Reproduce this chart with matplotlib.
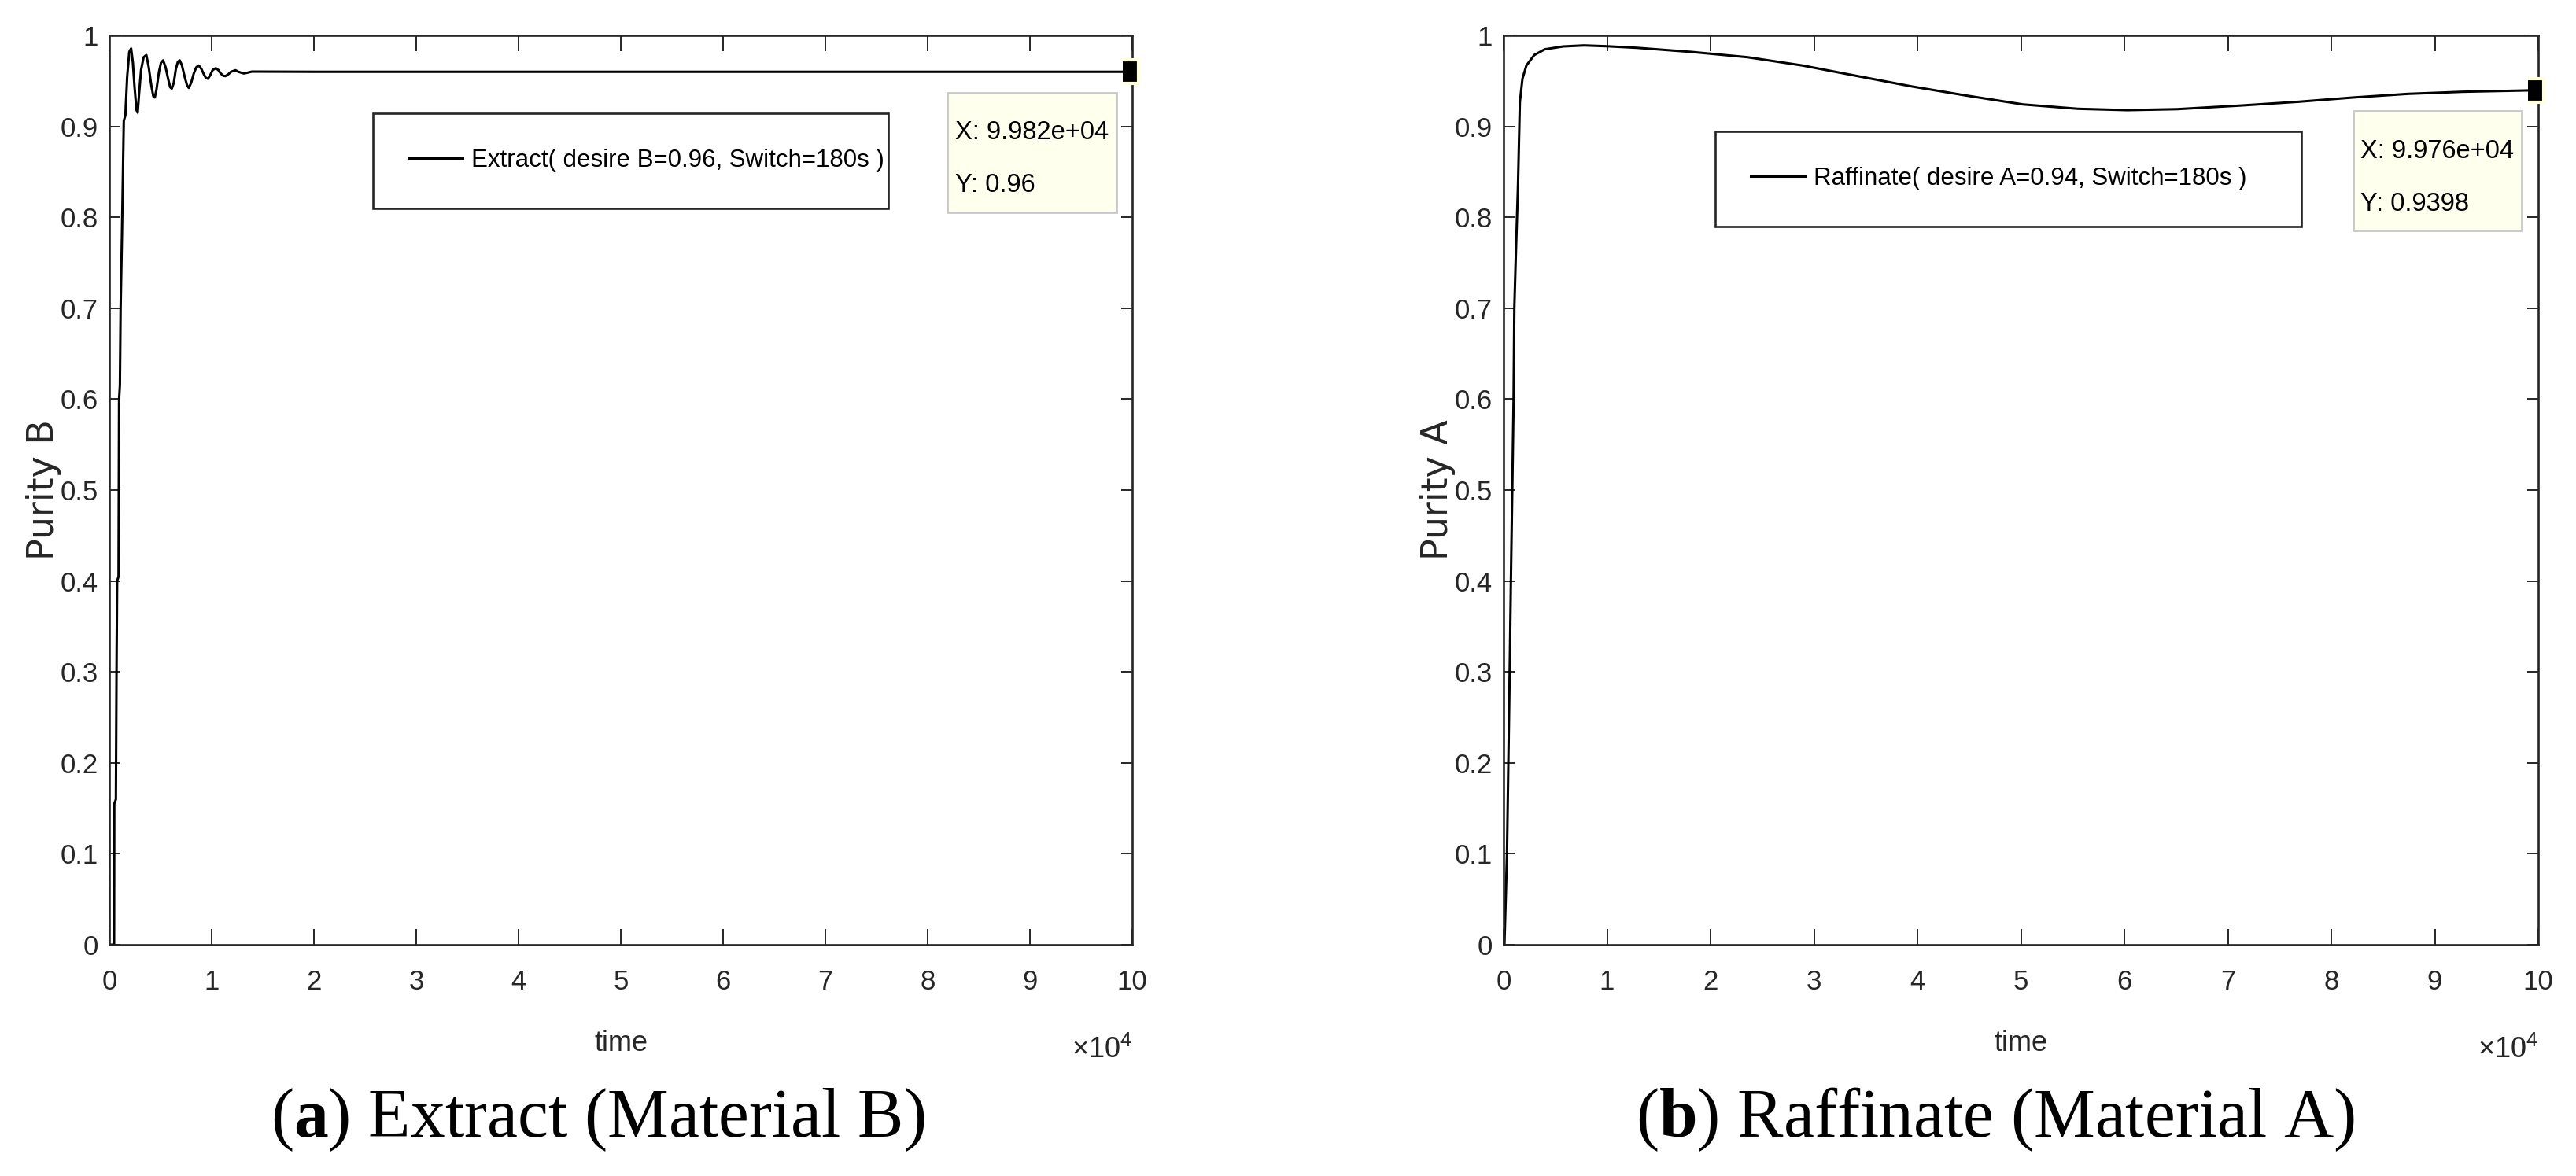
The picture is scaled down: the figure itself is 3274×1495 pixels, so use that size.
import matplotlib
matplotlib.use('Agg')
import matplotlib.pyplot as plt
from matplotlib.ticker import FuncFormatter, FixedLocator
from matplotlib.offsetbox import TextArea, VPacker, DrawingArea, AnnotationBbox

# left panel: extract purity (material B)
t_ext = [0, 460, 480, 640, 700, 760, 900, 950, 1030, 1100, 1230, 1410, 1564, 1744,
         1950, 2128, 2300, 2450, 2650, 2769, 2900, 3100, 3350, 3615, 3850, 4100,
         4300, 4436, 4600, 4850, 5050, 5256, 5500, 5750, 5950, 6103, 6300, 6500,
         6700, 6872, 7100, 7350, 7600, 7769, 8000, 8250, 8500, 8744, 9000, 9250,
         9450, 9641, 9850, 10100, 10410, 10650, 10900, 11150, 11359, 11600, 11900,
         12333, 12600, 12900, 13154, 13500, 13923, 20000, 60000, 100000]
purity_b = [0.0, 0.0, 0.155, 0.16, 0.30, 0.40, 0.405, 0.60, 0.615, 0.70, 0.78, 0.906,
            0.912, 0.955, 0.982, 0.9856, 0.970, 0.945, 0.918, 0.915, 0.935, 0.962,
            0.976, 0.9784, 0.965, 0.945, 0.933, 0.9317, 0.940, 0.960, 0.970, 0.9726,
            0.965, 0.952, 0.943, 0.9415, 0.948, 0.963, 0.971, 0.9726, 0.967, 0.955,
            0.945, 0.9423, 0.948, 0.958, 0.965, 0.9669, 0.963, 0.957, 0.953, 0.9524,
            0.956, 0.962, 0.964, 0.962, 0.958, 0.9555, 0.9553, 0.957, 0.960, 0.9617,
            0.960, 0.959, 0.9582, 0.959, 0.9602, 0.960, 0.960, 0.960]

# right panel: raffinate purity (material A)
t_raf = [0, 80, 330, 460, 590, 710, 840, 970, 1040, 1194, 1392, 1574, 1825, 2205,
         2966, 3977, 5757, 7779, 9985, 12852, 18200, 23600, 28900, 34200, 39500,
         44800, 50200, 55500, 60300, 65100, 71400, 76800, 82100, 87400, 92700,
         98600, 100000]
purity_a = [0.0, 0.0, 0.10, 0.20, 0.30, 0.40, 0.50, 0.60, 0.70, 0.762, 0.834, 0.9265,
            0.9524, 0.9669, 0.9784, 0.9847, 0.9879, 0.989, 0.9881, 0.9864, 0.9818,
            0.976, 0.9669, 0.9553, 0.9438, 0.9337, 0.9241, 0.9193, 0.9178, 0.9189,
            0.923, 0.927, 0.9317, 0.9357, 0.938, 0.9394, 0.9398]

# data tips
tip_ext = (99820, 0.96)
tip_raf = (99760, 0.9398)

legend_ext = 'Extract( desire B=0.96, Switch=180s )'
legend_raf = 'Raffinate( desire A=0.94, Switch=180s )'
ylabel_ext = 'Purity B'
ylabel_raf = 'Purity A'
caption_ext = r'($\mathbf{a}$) Extract (Material B)'
caption_raf = r'($\mathbf{b}$) Raffinate (Material A)'

x_ticks = [i * 10000 for i in range(11)]
y_ticks = [i / 10 for i in range(11)]

SANS = 'Liberation Sans'
plt.rcParams['font.family'] = [SANS, 'DejaVu Sans']
plt.rcParams['mathtext.fontset'] = 'custom'
plt.rcParams['mathtext.rm'] = SANS
plt.rcParams['mathtext.it'] = SANS
plt.rcParams['mathtext.bf'] = 'Liberation Serif:bold'

AX_COLOR = '#262626'
W, H = 3274, 1495

fig = plt.figure(figsize=(W / 100, H / 100), dpi=100)
ax_l = fig.add_axes([139 / W, 1 - 1201 / H, 1300 / W, 1156 / H])
ax_r = fig.add_axes([1911 / W, 1 - 1201 / H, 1315 / W, 1156 / H])


def decorate(ax, ylabel, width_px):
    ax.set_xlim(0, 100000)
    ax.set_ylim(0, 1)
    ax.xaxis.set_major_locator(FixedLocator(x_ticks))
    ax.yaxis.set_major_locator(FixedLocator(y_ticks))
    ax.xaxis.set_major_formatter(FuncFormatter(lambda v, _: f'{v / 1e4:g}'))
    ax.yaxis.set_major_formatter(FuncFormatter(lambda v, _: f'{v:g}'))
    ax.tick_params(axis='x', direction='in', length=14.5, width=1.4, pad=22,
                   top=True, labelsize=25, colors=AX_COLOR)
    ax.tick_params(axis='y', direction='in', length=10, width=1.4, pad=10,
                   right=True, labelsize=25, colors=AX_COLOR)
    for sp in ax.spines.values():
        sp.set_linewidth(1.9)
        sp.set_color(AX_COLOR)
    ax.set_xlabel('time', fontsize=26, color=AX_COLOR)
    ax.xaxis.set_label_coords(0.5, -0.0934)
    ax.set_ylabel(ylabel, fontsize=33, family='DejaVu Sans', color=AX_COLOR)
    ax.yaxis.set_label_coords(-61 / width_px, 0.5)
    ax.text(1.0, -0.1246, r'$\times10^{4}$', transform=ax.transAxes,
            ha='right', va='baseline', fontsize=26, color=AX_COLOR)


def add_legend(ax, x0, ytop, width):
    leg = ax.legend(loc='upper left', bbox_to_anchor=(x0, ytop, width, 0),
                    mode='expand', borderaxespad=0, borderpad=1.45,
                    handlelength=2.2, handletextpad=0.35, fancybox=False,
                    framealpha=1, edgecolor=AX_COLOR, fontsize=22.5)
    leg.get_frame().set_linewidth(1.9)


def add_tip(ax, tip):
    ax.plot([tip[0]], [tip[1]], linestyle='none',
            marker=[(-0.7, -1), (0.7, -1), (0.7, 1), (-0.7, 1)], ms=21,
            mfc='black', mec='#ffffdc', mew=3, zorder=5, clip_on=False)
    props = dict(fontsize=23.5, color='black')
    rows = VPacker(children=[TextArea(f'X: {tip[0]:.4g}', textprops=props),
                             TextArea(f'Y: {tip[1]:.4g}', textprops=props)],
                   align='left', pad=0, sep=26)
    body = VPacker(children=[DrawingArea(1, 18.5), rows, DrawingArea(1, 6)],
                   align='left', pad=0, sep=0)
    ab = AnnotationBbox(body, tip, xybox=(-19.7, -26.2), xycoords='data',
                        boxcoords='offset points', box_alignment=(1, 1),
                        pad=0.32, fontsize=23.5, frameon=True,
                        bboxprops=dict(boxstyle='square', fc='#ffffee',
                                       ec='#c8c8c8', lw=2))
    ab.set_zorder(6)
    ax.add_artist(ab)


ax_l.plot(t_ext, purity_b, color='black', lw=2.2, label=legend_ext)
ax_r.plot(t_raf, purity_a, color='black', lw=2.2, label=legend_raf)

decorate(ax_l, ylabel_ext, 1300)
decorate(ax_r, ylabel_raf, 1315)

add_legend(ax_l, 0.2577, 0.9144, 0.5038)
add_legend(ax_r, 0.2046, 0.8945, 0.5665)

add_tip(ax_l, tip_ext)
add_tip(ax_r, tip_raf)

fig.text(760 / W, 1 - 1445 / H, caption_ext, ha='center', va='baseline',
         fontsize=63, family='Liberation Serif')
fig.text(2536 / W, 1 - 1445 / H, caption_raf, ha='center', va='baseline',
         fontsize=63, family='Liberation Serif')

fig.savefig('out.png', dpi=100)
